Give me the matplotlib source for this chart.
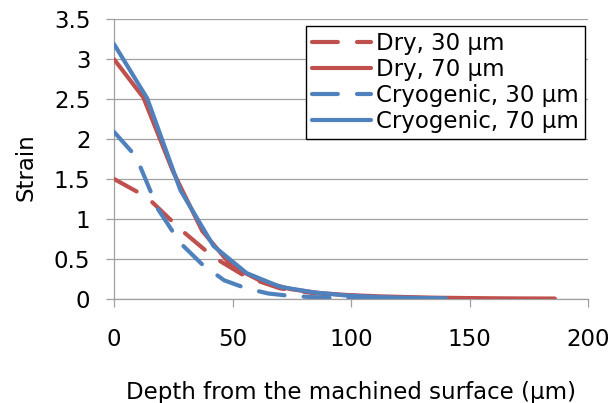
import matplotlib
matplotlib.use("Agg")
import matplotlib.pyplot as plt

plt.rcParams['font.family'] = ['DejaVu Sans']

# Data
depth_dry30 = [0, 14, 28, 42, 56, 70, 84, 98, 112, 126, 140]
strain_dry30 = [1.50, 1.27, 0.87, 0.52, 0.27, 0.13, 0.07, 0.04, 0.02, 0.01, 0.005]

depth_dry70 = [0, 12.4, 24.8, 37.2, 49.6, 62, 74.4, 86.8, 99.2, 111.6, 124, 136.4, 148.8, 161.2, 173.6, 186]
strain_dry70 = [3.00, 2.52, 1.60, 0.85, 0.41, 0.22, 0.12, 0.07, 0.045, 0.03, 0.02, 0.012, 0.008, 0.005, 0.003, 0.002]

depth_cryo30 = [0, 9.3, 18.6, 27.9, 37.2, 46.5, 55.8, 65.1, 74.4, 83.7, 93, 102.3, 111.6, 120.9, 130.2]
strain_cryo30 = [2.09, 1.78, 1.12, 0.70, 0.43, 0.23, 0.13, 0.065, 0.035, 0.02, 0.01, 0.006, 0.004, 0.002, 0.001]

depth_cryo70 = [0, 14, 28, 42, 56, 70, 84, 98, 112, 126, 140]
strain_cryo70 = [3.19, 2.51, 1.36, 0.66, 0.32, 0.15, 0.08, 0.04, 0.02, 0.01, 0.005]

labels = ["Dry, 30 μm", "Dry, 70 μm", "Cryogenic, 30 μm", "Cryogenic, 70 μm"]
x_ticks = [0, 50, 100, 150, 200]
y_ticks = [0, 0.5, 1, 1.5, 2, 2.5, 3, 3.5]
y_tick_labels = ["0", "0.5", "1", "1.5", "2", "2.5", "3", "3.5"]

RED = '#C0504D'
BLUE = '#4F81BD'
GRID = '#a0a0a0'
W, H = 611, 403
FS = 16.5

fig = plt.figure(figsize=(W / 100, H / 100), dpi=100)
ax = fig.add_axes([114 / W, 1 - 298.7 / H, (588 - 114) / W, (298.7 - 19.3) / H])

lw = 3.0
dash = (6.2, 4.6)
ax.plot(depth_dry30, strain_dry30, color=RED, lw=lw, dashes=dash,
        dash_capstyle='round', solid_capstyle='round', label=labels[0], zorder=3)
ax.plot(depth_dry70, strain_dry70, color=RED, lw=lw,
        solid_capstyle='round', solid_joinstyle='round', label=labels[1], zorder=3)
ax.plot(depth_cryo30, strain_cryo30, color=BLUE, lw=lw, dashes=dash,
        dash_capstyle='round', solid_capstyle='round', label=labels[2], zorder=4)
ax.plot(depth_cryo70, strain_cryo70, color=BLUE, lw=lw,
        solid_capstyle='round', solid_joinstyle='round', label=labels[3], zorder=4)

ax.set_xlim(0, 200)
ax.set_ylim(0, 3.5)
ax.set_xticks(x_ticks)
ax.set_yticks(y_ticks)
ax.set_yticklabels(y_tick_labels)

ax.yaxis.grid(True, color=GRID, lw=0.9)
ax.set_axisbelow(True)
for s in ['top', 'right']:
    ax.spines[s].set_visible(False)
for s in ['left', 'bottom']:
    ax.spines[s].set_color(GRID)
    ax.spines[s].set_linewidth(0.9)

ax.tick_params(axis='both', colors=GRID, labelcolor='black', labelsize=FS,
               width=0.9, direction='out')
ax.tick_params(axis='y', length=6, pad=11)
ax.tick_params(axis='x', length=6, pad=15)

ax.set_xlabel("Depth from the machined surface (μm)", fontsize=FS, labelpad=22)
ax.set_ylabel("Strain", fontsize=FS)
ax.yaxis.set_label_coords((37 - 114) / 474, 0.471)

leg = ax.legend(loc='upper right', bbox_to_anchor=(585 / W, 1 - 26 / H),
                bbox_transform=fig.transFigure, fontsize=FS, frameon=True,
                fancybox=False, shadow=False, borderpad=0.25, labelspacing=0.14,
                handlelength=2.6, handletextpad=0.22, borderaxespad=0)
leg.get_frame().set_edgecolor('black')
leg.get_frame().set_linewidth(1.0)
leg.get_frame().set_alpha(1.0)

fig.savefig("out.png", dpi=100)
